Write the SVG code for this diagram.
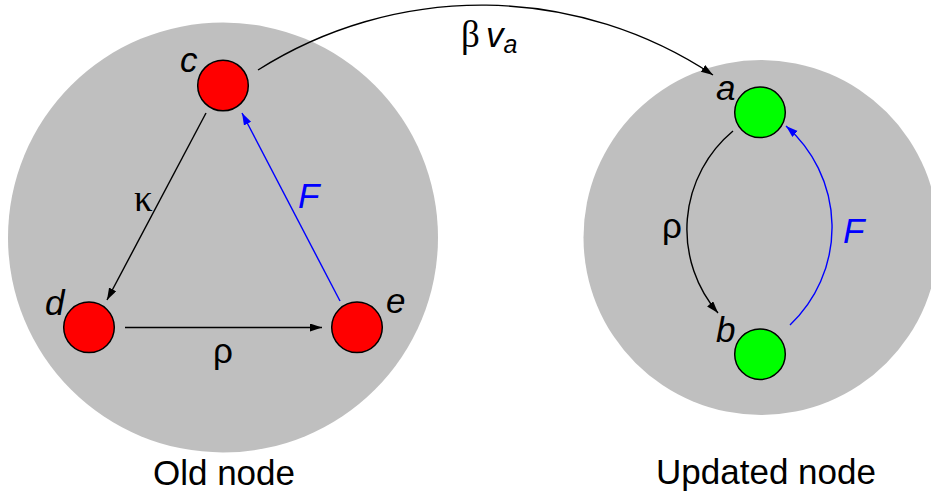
<svg xmlns="http://www.w3.org/2000/svg" width="931" height="500" viewBox="0 0 931 500">
<style>
.big{fill:#bfbfbf;stroke:none}
.red{fill:#ff0000;stroke:#000;stroke-width:1.5}
.green{fill:#00ff00;stroke:#000;stroke-width:1.5}
.lbl{font-family:"Liberation Sans",Arial,sans-serif;font-size:35px;fill:#000}
.it{font-style:italic}
.gr{font-family:"Liberation Serif","Times New Roman",serif;font-size:37px;fill:#000}
.blue{fill:#0000ff}
.e{fill:none;stroke:#000;stroke-width:1.4}
.eb{fill:none;stroke:#0000ff;stroke-width:1.4}
</style>
<defs>
<marker id="ah" markerUnits="userSpaceOnUse" markerWidth="13" markerHeight="9" refX="12" refY="4" orient="auto"><path d="M0,0 L12,4 L0,8 z" fill="#000"/></marker>
<marker id="ahb" markerUnits="userSpaceOnUse" markerWidth="13" markerHeight="9" refX="12" refY="4" orient="auto"><path d="M0,0 L12,4 L0,8 z" fill="#0000ff"/></marker>
</defs>
<g id="old-node">
<circle class="big" cx="223" cy="237.5" r="215"/>
<text class="lbl" x="224" y="485" text-anchor="middle">Old node</text>
</g>
<g id="updated-node">
<circle class="big" cx="761" cy="237.5" r="177.5"/>
<text class="lbl" x="766" y="484" text-anchor="middle">Updated node</text>
</g>
<g id="connectors">
<path class="e" d="M258,70 A418,418 0 0,1 713,75" marker-end="url(#ah)"/>
<path class="e" d="M206,113 L107,300" marker-end="url(#ah)"/>
<path class="eb" d="M340,301 L242,113" marker-end="url(#ahb)"/>
<path class="e" d="M125,327.5 L322,327.5" marker-end="url(#ah)"/>
<path class="e" d="M733,131 A128,128 0 0,0 718,313" marker-end="url(#ah)"/>
<path class="eb" d="M790,325 A134.5,134.5 0 0,0 786,126" marker-end="url(#ahb)"/>
<text class="gr" x="461" y="47">β</text>
<text class="lbl it" x="486" y="47">v<tspan font-size="25" dy="6">a</tspan></text>
<text class="gr" x="134" y="211" font-size="40">κ</text>
<text class="lbl it blue" x="298" y="208">F</text>
<text class="lbl" x="223" y="363" text-anchor="middle">ρ</text>
<text class="lbl" x="672" y="238" text-anchor="middle">ρ</text>
<text class="lbl it blue" x="843" y="243">F</text>
</g>
<g id="node-c"><circle class="red" cx="223" cy="85.5" r="25.3"/><text class="lbl it" x="180" y="72">c</text></g>
<g id="node-d"><circle class="red" cx="89" cy="327.3" r="25.3"/><text class="lbl it" x="45" y="315">d</text></g>
<g id="node-e"><circle class="red" cx="357" cy="327.3" r="25.3"/><text class="lbl it" x="386" y="313">e</text></g>
<g id="node-a"><circle class="green" cx="760" cy="112.3" r="25.3"/><text class="lbl it" x="716" y="100">a</text></g>
<g id="node-b"><circle class="green" cx="760" cy="354.2" r="25.3"/><text class="lbl it" x="716" y="342">b</text></g>
</svg>
